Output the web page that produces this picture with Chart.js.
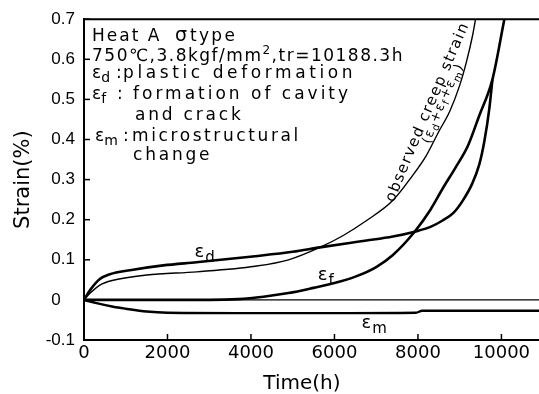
<!DOCTYPE html>
<html>
<head>
<meta charset="utf-8">
<script src="https://cdn.jsdelivr.net/npm/chart.js@4.4.0/dist/chart.umd.min.js"></script>
<style>
  html, body { margin: 0; padding: 0; background: #fff; }
</style>
</head>
<body>
<canvas id="chartStrain" width="539" height="394"></canvas>
<script>
// values (time in h, strain in %)
const timeObserved = [0, 150, 380, 700, 1500, 2700, 4100, 4900, 5650, 6200, 6770, 7390, 7870, 8200, 8500, 8760, 9000, 9160, 9310, 9380];
const strainObserved = [0, 0.017, 0.037, 0.049, 0.062, 0.070, 0.084, 0.100, 0.131, 0.160, 0.198, 0.247, 0.310, 0.360, 0.420, 0.470, 0.535, 0.593, 0.660, 0.700];

const timeD = [0, 150, 380, 620, 1100, 1900, 2700, 4100, 5000, 5650, 6360, 6770, 7400, 7920, 8300, 8590, 8850, 9070, 9300, 9470, 9590, 9710, 9785];
const strainD = [0, 0.025, 0.052, 0.064, 0.074, 0.086, 0.094, 0.109, 0.120, 0.131, 0.142, 0.148, 0.158, 0.170, 0.182, 0.198, 0.217, 0.247, 0.290, 0.338, 0.395, 0.477, 0.550];

const timeF = [0, 1000, 2000, 3000, 3700, 4300, 4900, 5500, 6000, 6500, 7000, 7400, 7920, 8300, 8600, 8900, 9200, 9470, 9785, 10070];
const strainF = [0, 0, 0, 0, 0.002, 0.008, 0.017, 0.030, 0.042, 0.058, 0.082, 0.112, 0.170, 0.225, 0.279, 0.330, 0.385, 0.460, 0.550, 0.700];

const timeM = [0, 300, 700, 1000, 1500, 2000, 4000, 6000, 7950, 8100, 10900];
const strainM = [0, -0.008, -0.017, -0.022, -0.029, -0.032, -0.033, -0.033, -0.032, -0.027, -0.027];

const timeZero = [0, 10900];
const strainZero = [0, 0];

const xTickValues = [0, 2000, 4000, 6000, 8000, 10000];
const xTickLabels = ['0', '2000', '4000', '6000', '8000', '10000'];
const yTickValues = [-0.1, 0, 0.1, 0.2, 0.3, 0.4, 0.5, 0.6, 0.7];
const yTickLabels = ['-0.1', '0', '0.1', '0.2', '0.3', '0.4', '0.5', '0.6', '0.7'];

const FONT = "'DejaVu Sans', sans-serif";
Chart.defaults.font.family = FONT;
Chart.defaults.color = '#000';

function toPoints(times, strains) {
    return times.map((t, i) => ({ x: t, y: strains[i] }));
}

function curve(label, times, strains, width) {
    return {
        label: label,
        data: toPoints(times, strains),
        borderColor: '#000',
        borderWidth: width,
        pointRadius: 0,
        fill: false,
        cubicInterpolationMode: 'monotone'
    };
}

// draws a run of text with sub/superscripts, returns end x
function drawParts(ctx, x, y, parts, size, spacing) {
    let cx = x;
    parts.forEach(([text, kind]) => {
        let fs = size, dy = 0;
        if (kind === 'sub') { fs = Math.round(size * 0.85); dy = size * 0.2; }
        if (kind === 'sup') { fs = Math.round(size * 0.7); dy = -size * 0.4; }
        ctx.font = `${fs}px ${FONT}`;
        ctx.letterSpacing = spacing + 'px';
        ctx.fillText(text, cx, y + dy);
        cx += ctx.measureText(text).width;
    });
    ctx.letterSpacing = '0px';
    return cx;
}

// quadratic path passing through p0, m, p2
function samplePath(p0, m, p2, n) {
    const c = { x: 2 * m.x - (p0.x + p2.x) / 2, y: 2 * m.y - (p0.y + p2.y) / 2 };
    const pts = [];
    for (let i = 0; i <= n; i++) {
        const t = i / n;
        pts.push({
            x: (1 - t) * (1 - t) * p0.x + 2 * (1 - t) * t * c.x + t * t * p2.x,
            y: (1 - t) * (1 - t) * p0.y + 2 * (1 - t) * t * c.y + t * t * p2.y
        });
    }
    return pts;
}

function textOnPath(ctx, pts, parts, size, spacing) {
    const lens = [0];
    for (let i = 1; i < pts.length; i++) {
        lens.push(lens[i - 1] + Math.hypot(pts[i].x - pts[i - 1].x, pts[i].y - pts[i - 1].y));
    }
    const at = (s) => {
        let i = 1;
        while (i < pts.length - 1 && lens[i] < s) i++;
        const a = pts[i - 1], b = pts[i];
        const f = (s - lens[i - 1]) / (lens[i] - lens[i - 1]);
        return { x: a.x + (b.x - a.x) * f, y: a.y + (b.y - a.y) * f, ang: Math.atan2(b.y - a.y, b.x - a.x) };
    };
    let s = 0;
    ctx.letterSpacing = '0px';
    parts.forEach(([text, kind]) => {
        const fs = kind ? Math.round(size * 0.75) : size;
        const dy = kind === 'sub' ? size * 0.25 : 0;
        ctx.font = `${fs}px ${FONT}`;
        for (const ch of text) {
            const w = ctx.measureText(ch).width;
            const p = at(s + w / 2);
            ctx.save();
            ctx.translate(p.x, p.y);
            ctx.rotate(p.ang);
            ctx.textAlign = 'center';
            ctx.fillText(ch, 0, dy);
            ctx.restore();
            s += w + spacing;
        }
    });
}

const annotate = {
    id: 'annotate',
    afterDraw(chart) {
        const { ctx, chartArea, scales: { x, y } } = chart;
        ctx.save();
        ctx.strokeStyle = '#000';
        ctx.fillStyle = '#000';

        // top frame
        ctx.lineWidth = 2;
        ctx.beginPath();
        ctx.moveTo(chartArea.left - 1, chartArea.top);
        ctx.lineTo(chartArea.right, chartArea.top);
        ctx.stroke();

        // inward tick marks
        ctx.lineWidth = 1.5;
        y.ticks.forEach(t => {
            const py = y.getPixelForValue(t.value);
            ctx.beginPath();
            ctx.moveTo(chartArea.left, py);
            ctx.lineTo(chartArea.left + 6, py);
            ctx.stroke();
        });
        x.ticks.forEach(t => {
            if (t.value === 0) return;
            const px = x.getPixelForValue(t.value);
            ctx.beginPath();
            ctx.moveTo(px, chartArea.bottom);
            ctx.lineTo(px, chartArea.bottom - 6);
            ctx.stroke();
        });

        // legend block
        const L = chartArea.left + 8;
        const T = chartArea.top;
        ctx.textAlign = 'left';
        ctx.textBaseline = 'alphabetic';
        drawParts(ctx, L, T + 22, [['Heat A']], 17, 2.0);
        drawParts(ctx, L + 83, T + 22, [['σ']], 19, 0);
        drawParts(ctx, L + 98, T + 22, [['type']], 17, 2.3);
        drawParts(ctx, L, T + 42, [['750℃,3.8kgf/mm'], ['2', 'sup'], [',tr=10188.3h']], 17, 1.5);
        drawParts(ctx, L, T + 59, [['ε'], ['d', 'sub']], 17, 0);
        drawParts(ctx, L + 24, T + 59, [[':']], 17, 0);
        drawParts(ctx, L + 31, T + 59, [['plastic deformation']], 17, 3.6);
        drawParts(ctx, L, T + 80, [['ε'], ['f', 'sub']], 17, 0);
        drawParts(ctx, L + 25, T + 80, [[':']], 17, 0);
        drawParts(ctx, L + 41, T + 80, [['formation of cavity']], 17, 3.0);
        drawParts(ctx, L + 43, T + 101, [['and crack']], 17, 2.8);
        drawParts(ctx, L + 3, T + 122, [['ε'], ['m', 'sub']], 17, 0);
        drawParts(ctx, L + 31, T + 122, [[':']], 17, 0);
        drawParts(ctx, L + 40, T + 122, [['microstructural']], 17, 2.6);
        drawParts(ctx, L + 41, T + 141, [['change']], 17, 2.8);

        // curve labels
        const lab = (t, s, sub) => {
            const ex2 = drawParts(ctx, x.getPixelForValue(t), y.getPixelForValue(s), [['ε']], 18, 0);
            ctx.font = `15px ${FONT}`;
            ctx.fillText(sub, ex2 + 1, y.getPixelForValue(s) + 5);
        };
        lab(2650, 0.106, 'd');
        lab(5600, 0.050, 'f');
        lab(6650, -0.069, 'm');

        // text along the observed creep strain curve
        const px = (t, s) => ({ x: x.getPixelForValue(t), y: y.getPixelForValue(s) });
        const path1 = samplePath(px(7420, 0.242), px(8040, 0.398), px(9200, 0.681), 60);
        textOnPath(ctx, path1, [['observed creep strain']], 15, 1.4);
        const path2 = samplePath(px(8290, 0.388), px(8700, 0.499), px(9230, 0.607), 60);
        textOnPath(ctx, path2, [['(ε'], ['d', 'sub'], ['+ε'], ['f', 'sub'], ['+ε'], ['m', 'sub'], [')']], 13, 1.3);

        ctx.restore();
    }
};

const ctx = document.getElementById('chartStrain').getContext('2d');
new Chart(ctx, {
    type: 'line',
    data: {
        datasets: [
            curve('zero', timeZero, strainZero, 1.3),
            curve('observed creep strain (εd+εf+εm)', timeObserved, strainObserved, 1.4),
            curve('εd', timeD, strainD, 2.6),
            curve('εf', timeF, strainF, 2.6),
            curve('εm', timeM, strainM, 2.4)
        ]
    },
    options: {
        responsive: false,
        animation: false,
        layout: { padding: { top: 16, right: 0, bottom: 0, left: 0 } },
        plugins: {
            legend: { display: false },
            tooltip: { enabled: false }
        },
        scales: {
            x: {
                type: 'linear',
                min: 0,
                max: 10900,
                afterBuildTicks: scale => { scale.ticks = xTickValues.map(v => ({ value: v })); },
                afterFit: scale => { scale.height = 54; },
                grid: { display: false, drawTicks: false },
                border: { color: '#000', width: 2 },
                ticks: {
                    padding: 3,
                    font: { size: 18 },
                    maxRotation: 0,
                    autoSkip: false,
                    callback: (v, i) => xTickLabels[i]
                },
                title: {
                    display: true,
                    text: 'Time(h)   ',
                    font: { size: 20, lineHeight: 1 },
                    padding: { top: 0, bottom: 0 }
                }
            },
            y: {
                min: -0.1,
                max: 0.7,
                afterBuildTicks: scale => { scale.ticks = yTickValues.map(v => ({ value: v })); },
                afterFit: scale => { scale.width = 84; },
                grid: { display: false, drawTicks: false },
                border: { color: '#000', width: 2 },
                ticks: {
                    padding: 9,
                    font: { size: 17, family: "'Liberation Sans', sans-serif" },
                    autoSkip: false,
                    callback: (v, i) => yTickLabels[i] === '0' ? '0\u2008\u2007' : yTickLabels[i]
                },
                title: {
                    display: true,
                    text: 'Strain(%)',
                    font: { size: 21, lineHeight: 1 },
                    padding: { top: 13, bottom: 0 }
                }
            }
        }
    },
    plugins: [annotate]
});
</script>
</body>
</html>
